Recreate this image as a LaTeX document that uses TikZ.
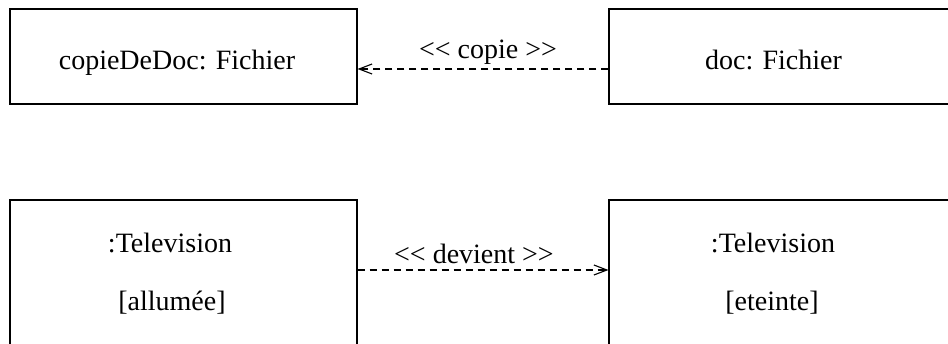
\documentclass[tikz,border=0pt]{standalone}
\usepackage{fontspec}
\setmainfont{Liberation Serif}
\usetikzlibrary{arrows.meta}
\tikzset{
  >={Straight Barb[length=13pt,width=10pt]},
  objbox/.style={draw,rectangle,inner sep=0pt,minimum height=95pt},
  dep/.style={->,dashed,dash pattern=on 7pt off 5pt},
  objtxt/.style={anchor=base},
}

\begin{document}
\begin{tikzpicture}[x=1pt,y=-1pt,line width=1.1pt,font=\fontsize{28}{32}\selectfont]
    \useasboundingbox (0,0) rectangle (948,344);
    \clip (0,0) rectangle (948,344);
    % objects of class Fichier
    \node[objbox,minimum width=347pt] (copie) at (183.5,56.5) {};
    \node[objbox,minimum width=360pt] (doc) at (789,56.5) {};
    \node[objtxt] (copietxt) at (177,70) {copieDeDoc: Fichier};
    \node[objtxt] (doctxt) at (773.5,70) {doc: Fichier};
    \draw[dep] ([yshift=-12.5pt]doc.west) -- ([yshift=-12.5pt]copie.east)
      node[pos=.48,above=1pt] (copielbl) {<{}< copie >{}>};
    % two states of the same television
    \begin{scope}[objbox/.append style={minimum height=150pt}]
      \node[objbox,minimum width=347pt] (tvon) at (183.5,275) {};
      \node[objbox,minimum width=360pt] (tvoff) at (789,275) {};
    \end{scope}
    \node[objtxt] (tvontxt) at (170,253) {:Television};
    \node[objtxt] (ontxt) at (172,311) {[allumée]};
    \node[objtxt] (tvofftxt) at (773,253) {:Television};
    \node[objtxt] (offtxt) at (772,311) {[eteinte]};
    \draw[dep] ([yshift=5pt]tvon.east) -- ([yshift=5pt]tvoff.west)
      node[pos=.464,above=2pt] (devlbl) {<{}< devient >{}>};
  \end{tikzpicture}
\end{document}
